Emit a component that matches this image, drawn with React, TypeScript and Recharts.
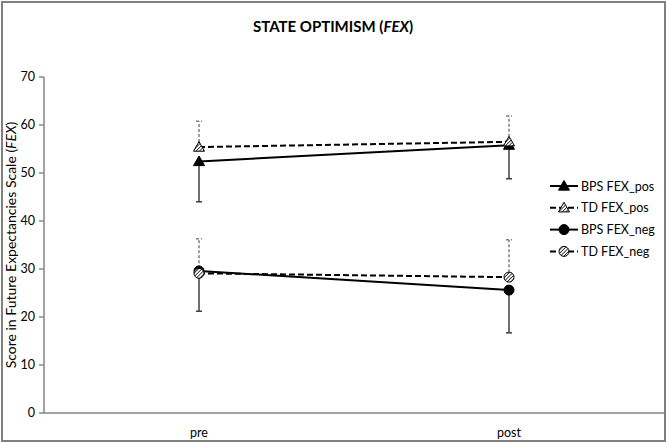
import React from "react";
import { LineChart, Line, XAxis, YAxis, ErrorBar } from "recharts";

const categories = ["pre", "post"];
const bpsPos = [52.4, 55.8];
const bpsPosErr = [8.4, 7.0];
const tdPos = [55.4, 56.5];
const tdPosErr = [5.4, 5.4];
const bpsNeg = [29.6, 25.6];
const bpsNegErr = [8.4, 8.9];
const tdNeg = [29.1, 28.3];
const tdNegErr = [7.2, 7.8];
const yTicks = [0, 10, 20, 30, 40, 50, 60, 70];

const data = categories.map((c, i) => ({
  cat: c,
  bpsPos: bpsPos[i],
  bpsPosErr: [bpsPosErr[i], 0],
  tdPos: tdPos[i],
  tdPosErr: [0, tdPosErr[i]],
  bpsNeg: bpsNeg[i],
  bpsNegErr: [bpsNegErr[i], 0],
  tdNeg: tdNeg[i],
  tdNegErr: [0, tdNegErr[i]],
}));

const FONT = "Lato, 'Open Sans', sans-serif";

type Shape = "tri" | "triH" | "circ" | "circH";

function marker(shape: Shape, cx: number, cy: number, key?: string) {
  if (shape === "tri" || shape === "triH") {
    const s = 5.5;
    const pts = `${cx},${cy - s} ${cx + s},${cy + s * 0.75} ${cx - s},${cy + s * 0.75}`;
    return (
      <polygon key={key} points={pts} fill={shape === "tri" ? "#000" : "url(#hatch)"} stroke="#000" strokeWidth={1} />
    );
  }
  return (
    <circle key={key} cx={cx} cy={cy} r={5} fill={shape === "circ" ? "#000" : "url(#hatch)"} stroke="#000" strokeWidth={1} />
  );
}

const dotFor = (shape: Shape) => (p: any) => marker(shape, p.cx, p.cy, `${shape}-${p.index}`);

const legendItems: { name: string; shape: Shape; dashed: boolean }[] = [
  { name: "BPS FEX_pos", shape: "tri", dashed: false },
  { name: "TD FEX_pos", shape: "triH", dashed: true },
  { name: "BPS FEX_neg", shape: "circ", dashed: false },
  { name: "TD FEX_neg", shape: "circH", dashed: true },
];

const HatchDefs = () => (
  <defs>
    <pattern id="hatch" patternUnits="userSpaceOnUse" width={2.5} height={2.5} patternTransform="rotate(45)">
      <rect width={2.5} height={2.5} fill="#fff" />
      <line x1={0} y1={0} x2={0} y2={2.5} stroke="#000" strokeWidth={1.4} />
    </pattern>
  </defs>
);

const LegendBox = () => (
  <svg width={110} height={90} style={{ position: "absolute", left: 548, top: 176 }}>
    {legendItems.map((it, i) => {
      const y = 10 + i * 21.8;
      return (
        <g key={it.name}>
          <line x1={2} x2={30} y1={y} y2={y} stroke="#000" strokeWidth={2} strokeDasharray={it.dashed ? "6 3" : undefined} />
          {marker(it.shape, 16, y)}
          <text x={33} y={y + 4.5} fontSize={12.5} fontFamily={FONT} fill="#000">
            {it.name}
          </text>
        </g>
      );
    })}
  </svg>
);

const YLabel = () => (
  <text x={16} y={245} transform="rotate(-90 16 245)" textAnchor="middle" fontSize={14} fontFamily={FONT} fill="#000">
    Score in Future Expectancies Scale (<tspan fontStyle="italic">FEX</tspan>)
  </text>
);

export default function App() {
  return (
    <div style={{ position: "fixed", left: 0, top: 0, width: 666, height: 442, background: "#fff" }}>
      <div
        style={{
          position: "absolute",
          left: 1,
          top: 1,
          width: 661,
          height: 437,
          border: "2px solid #808080",
        }}
      />
      <div
        style={{
          position: "absolute",
          left: 0,
          top: 17,
          width: 666,
          textAlign: "center",
          fontFamily: FONT,
          fontWeight: 700,
          fontSize: 15,
        }}
      >
        STATE OPTIMISM (<i>FEX</i>)
      </div>
      <div style={{ position: "absolute", left: 0, top: 0 }}>
        <LineChart width={666} height={442} data={data} margin={{ top: 77, right: 2, bottom: 0, left: 0 }}>
          <HatchDefs />
          <XAxis
            dataKey="cat"
            padding={{ left: 155, right: 155 }}
            height={29}
            tickLine={false}
            tickMargin={9}
            stroke="#868686"
            strokeWidth={1.5}
            tick={{ fill: "#000", fontSize: 12.5, fontFamily: FONT }}
          />
          <YAxis
            width={44}
            domain={[0, 70]}
            ticks={yTicks}
            tickSize={5}
            tickMargin={4}
            stroke="#868686"
            strokeWidth={1.5}
            tick={{ fill: "#000", fontSize: 12.5, fontFamily: FONT }}
            label={<YLabel />}
          />
          <Line dataKey="bpsPos" stroke="#000" strokeWidth={2} dot={dotFor("tri")} isAnimationActive={false}>
            <ErrorBar dataKey="bpsPosErr" width={3} stroke="#404040" strokeWidth={1.5} direction="y" />
          </Line>
          <Line dataKey="tdPos" stroke="#000" strokeWidth={2} strokeDasharray="6 3" dot={dotFor("triH")} isAnimationActive={false}>
            <ErrorBar dataKey="tdPosErr" width={3} stroke="#808080" strokeWidth={1.5} strokeDasharray="3 2" direction="y" />
          </Line>
          <Line dataKey="bpsNeg" stroke="#000" strokeWidth={2} dot={dotFor("circ")} isAnimationActive={false}>
            <ErrorBar dataKey="bpsNegErr" width={3} stroke="#404040" strokeWidth={1.5} direction="y" />
          </Line>
          <Line dataKey="tdNeg" stroke="#000" strokeWidth={2} strokeDasharray="6 3" dot={dotFor("circH")} isAnimationActive={false}>
            <ErrorBar dataKey="tdNegErr" width={3} stroke="#808080" strokeWidth={1.5} strokeDasharray="3 2" direction="y" />
          </Line>
        </LineChart>
      </div>
      <LegendBox />
    </div>
  );
}
